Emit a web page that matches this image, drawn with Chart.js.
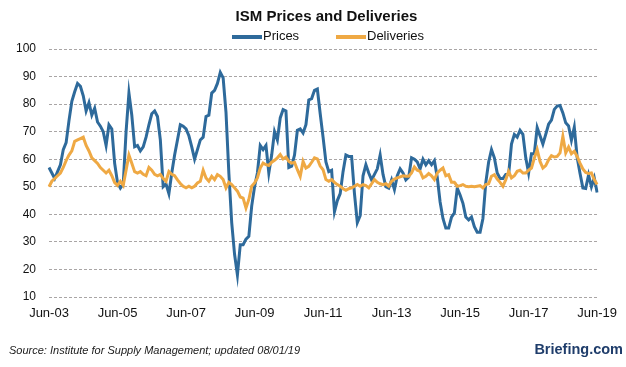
<!DOCTYPE html>
<html>
<head>
<meta charset="utf-8">
<script src="https://cdn.jsdelivr.net/npm/chart.js@4.4.1/dist/chart.umd.min.js"></script>
<style>
  html, body { margin: 0; padding: 0; background: #fff; }
  #wrap { position: relative; width: 626px; height: 367px; overflow: hidden; font-family: "Liberation Sans", Arial, sans-serif; }
  #c { position: absolute; left: 0; top: 0; }
  .title { position: absolute; left: 0; width: 653px; top: 7px; text-align: center; font-weight: bold; font-size: 15px; line-height: 18px; color: #111; }
  .leg-sw { position: absolute; height: 4px; width: 30px; }
  .leg-tx { position: absolute; font-size: 13px; line-height: 16px; color: #111; white-space: nowrap; }
  .source { position: absolute; left: 9px; top: 343px; font-size: 11px; line-height: 14px; font-style: italic; color: #1a1a1a; white-space: nowrap; }
  .brand { position: absolute; right: 3px; top: 340px; font-size: 14.5px; line-height: 18px; font-weight: bold; color: #1f3d6b; white-space: nowrap; }
</style>
</head>
<body>
<div id="wrap">
  <canvas id="c" width="626" height="367"></canvas>
  <div class="title">ISM Prices and Deliveries</div>
  <div id="legend"></div>
  <div class="source">Source: Institute for Supply Management; updated 08/01/19</div>
  <div class="brand">Briefing.com</div>
</div>
<script>
// Monthly categories: Jun-03 .. Jun-19
const monthNames = ['Jan','Feb','Mar','Apr','May','Jun','Jul','Aug','Sep','Oct','Nov','Dec'];
const categories = [];
for (let y = 2003, m = 5; y < 2019 || (y === 2019 && m <= 5); ) {
  categories.push(monthNames[m] + '-' + String(y % 100).padStart(2, '0'));
  m++; if (m === 12) { m = 0; y++; }
}
const tickLabels = ['Jun-03','Jun-05','Jun-07','Jun-09','Jun-11','Jun-13','Jun-15','Jun-17','Jun-19'];
const yTicks = [10,20,30,40,50,60,70,80,90,100];

const prices = [
  57, 55, 53, 55.5, 58, 63.5, 66, 74, 81, 84.5,
  87.5, 86.5, 83, 77.5, 80.5, 76, 78.5, 73.5, 72, 70,
  65, 72.5, 71, 58.5, 51.5, 49.5, 51, 70, 84, 76,
  64.5, 65, 63, 64.5, 68, 72.5, 76.5, 77.5, 75.5, 67,
  50, 51, 47.5, 55, 61.5, 67, 72.5, 72, 71, 68.5,
  64.5, 60, 63.5, 67, 68, 75.5, 76, 84, 85, 87.5,
  91.5, 89.5, 77, 55, 37, 25.5, 18, 29, 29, 31,
  32, 43, 50, 55, 65, 63.5, 65, 55, 61.5, 70,
  67, 75, 78, 77.5, 57, 57.5, 61.5, 70.5, 71, 69.5,
  72.5, 81.5, 82, 85, 85.5, 76.5, 68, 59, 55.5, 56,
  41, 45, 47.5, 55.5, 61.5, 61, 61, 47.5, 37, 39.5,
  54, 58, 55, 52.5, 54.5, 56.5, 61.5, 54.5, 50, 49.5,
  52.5, 49, 54, 56.5, 55, 52.5, 53.5, 60.5, 60, 59,
  56.5, 60, 58, 59.5, 58, 59.5, 53.5, 44.5, 38.5, 35,
  35, 39, 40.5, 49.5, 47, 44, 39, 38, 39, 35.5,
  33.5, 33.5, 38.5, 51.5, 59, 63.5, 60.5, 55, 53, 53,
  54.5, 54.5, 65.5, 69, 68, 70.5, 69, 60.5, 55, 62,
  62, 71.5, 68.5, 65.5, 69, 72.7, 74.2, 78.1, 79.3, 79.5,
  76.8, 73.2, 72.1, 66.9, 71.6, 60.7, 54.9, 49.6, 49.4, 54.3,
  50, 53.2, 47.9
];
const deliveries = [
  50, 52, 53, 54, 55, 57, 59.5, 61.5, 63, 66.5,
  67, 67.5, 68, 65, 63, 60.5, 59.5, 58.5, 57, 56,
  55, 56, 54, 51.5, 50.5, 52, 50.5, 56, 61.5, 58.5,
  55.5, 55, 55.5, 54.5, 54, 57, 56, 54.5, 54, 54.5,
  53, 52, 55.5, 54.5, 54, 52.5, 51.2, 50.2, 49.6, 50.2,
  49.6, 50.2, 51.4, 52, 56, 53.2, 52, 53.8, 52.6, 54.4,
  53.8, 52.6, 49.6, 51.6, 50.8, 49.6, 48.4, 46.3, 45.9, 42.3,
  45.4, 50.2, 51.4, 53.2, 56.8, 58.6, 58, 57.7, 58.9, 59.6,
  60.5, 61.7, 60.1, 60.8, 59.2, 58.6, 58.9, 56.2, 53.8, 59.2,
  56.8, 57.4, 58.9, 60.5, 60.1, 57.5, 56.2, 52.6, 52, 52.6,
  51.6, 50.8, 50.2, 49.3, 48.7, 49.3, 49.6, 50.2, 50.8, 50.2,
  50.8, 50.4, 49.6, 51.1, 52.6, 51.6, 51.1, 50.8, 51.1, 50.2,
  52, 52.8, 53.2, 53.6, 54, 53.8, 53.8, 55, 57.2, 56,
  55.6, 53.2, 53.8, 54.8, 54, 52.6, 55, 56, 56.8, 54,
  54.4, 51.6, 51.6, 50.2, 50.4, 50.8, 50.2, 50, 50.2, 50,
  50.2, 50.4, 49.6, 50.8, 51.1, 53.8, 54.4, 52.8, 51.6, 50.2,
  52.6, 55.6, 53.2, 54, 55.6, 56, 55, 55, 56, 56.8,
  60.4, 63.5, 59.2, 56.8, 57.7, 59.8, 61.3, 60.8, 61, 62.3,
  68.3, 62.3, 64.4, 62, 62.9, 61, 58.6, 56.5, 55.2, 54.8,
  55, 52.6, 50.8
];

const seriesNames = ['Prices', 'Deliveries'];
const seriesColors = ['#2E6A9B', '#EFA944'];

// HTML legend built from series
const legendPos = [{sw: 232, tx: 263}, {sw: 336, tx: 367}];
const legendEl = document.getElementById('legend');
seriesNames.forEach((name, i) => {
  const sw = document.createElement('div');
  sw.className = 'leg-sw';
  sw.style.left = legendPos[i].sw + 'px';
  sw.style.top = '35px';
  sw.style.background = seriesColors[i];
  legendEl.appendChild(sw);
  const tx = document.createElement('div');
  tx.className = 'leg-tx';
  tx.style.left = legendPos[i].tx + 'px';
  tx.style.top = '28px';
  tx.textContent = name;
  legendEl.appendChild(tx);
});

new Chart(document.getElementById('c'), {
  type: 'line',
  data: {
    labels: categories,
    datasets: [
      { label: seriesNames[0], data: prices, borderColor: seriesColors[0], backgroundColor: seriesColors[0], borderWidth: 3, pointRadius: 0, tension: 0, order: 1 },
      { label: seriesNames[1], data: deliveries, borderColor: seriesColors[1], backgroundColor: seriesColors[1], borderWidth: 3, pointRadius: 0, tension: 0, order: 0 }
    ]
  },
  options: {
    responsive: false,
    animation: false,
    devicePixelRatio: 1,
    layout: { padding: { top: 49, right: 28, left: 0, bottom: 46 } },
    plugins: { legend: { display: false }, title: { display: false }, tooltip: { enabled: false } },
    scales: {
      x: {
        type: 'category',
        offset: false,
        grid: { display: false, drawTicks: false },
        border: { display: false },
        ticks: {
          autoSkip: false, maxRotation: 0, minRotation: 0, padding: 9,
          color: '#111', font: { family: 'Liberation Sans', size: 13 },
          callback: function (value) {
            const l = this.getLabelForValue(value);
            return tickLabels.includes(l) ? l : null;
          }
        },
        afterFit: (s) => { s.height = 24; }
      },
      y: {
        min: yTicks[0], max: yTicks[yTicks.length - 1],
        afterBuildTicks: (s) => { s.ticks = yTicks.map(v => ({ value: v })); },
        grid: { color: '#a9a5a5', lineWidth: 1, drawTicks: false },
        border: { display: false, dash: [3, 2] },
        ticks: { padding: 13, color: '#111', font: { family: 'Liberation Sans', size: 12 } },
        afterFit: (s) => { s.width = 49; }
      }
    }
  }
});
</script>
</body>
</html>
